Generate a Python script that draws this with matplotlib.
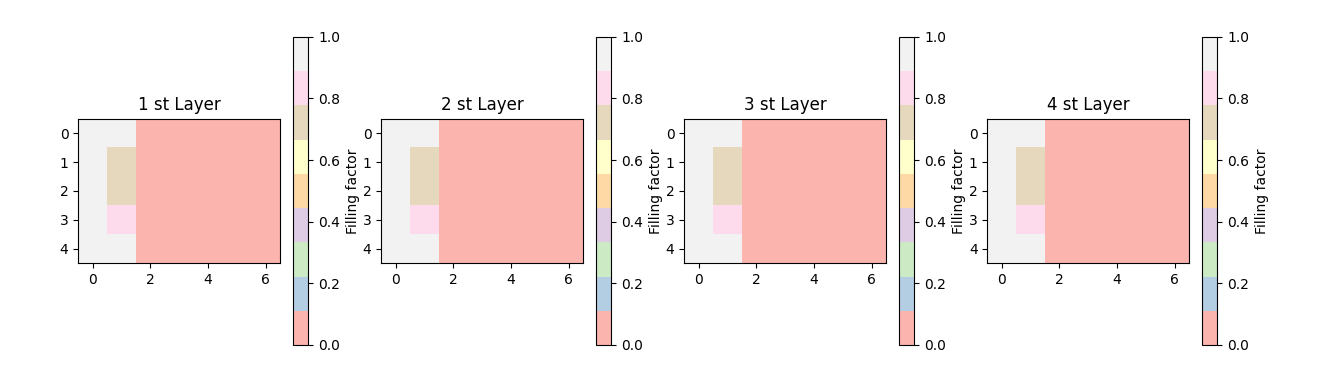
import numpy as np
import matplotlib
matplotlib.use("Agg")
import matplotlib.pyplot as plt

# layer names and filling factor of each cell (rows x columns)
layer_titles = ["1 st Layer", "2 st Layer", "3 st Layer", "4 st Layer"]
fill_layer = [
    [1.0, 1.0, 0.0, 0.0, 0.0, 0.0, 0.0],
    [1.0, 0.72, 0.0, 0.0, 0.0, 0.0, 0.0],
    [1.0, 0.72, 0.0, 0.0, 0.0, 0.0, 0.0],
    [1.0, 0.83, 0.0, 0.0, 0.0, 0.0, 0.0],
    [1.0, 1.0, 0.0, 0.0, 0.0, 0.0, 0.0],
]
layers = [fill_layer, fill_layer, fill_layer, fill_layer]
row_ticks = [0, 1, 2, 3, 4]

fig, axes = plt.subplots(1, 4, figsize=(13.26, 3.75), dpi=100)
fig.subplots_adjust(left=0.059, right=0.935, top=0.902, bottom=0.08, wspace=0.2)
for ax, title, data in zip(axes, layer_titles, layers):
    im = ax.imshow(np.array(data), cmap="Pastel1", vmin=0, vmax=1)
    ax.set_title(title)
    ax.set_yticks(row_ticks)
    cbar = fig.colorbar(im, ax=ax)
    cbar.set_label("Filling factor")

plt.savefig("out.png")
plt.close()
